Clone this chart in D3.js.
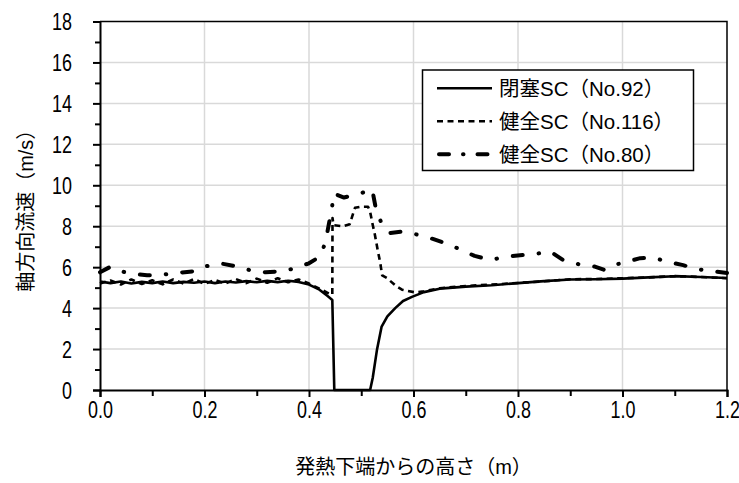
<!DOCTYPE html>
<html>
<head>
<meta charset="utf-8">
<script src="https://cdn.jsdelivr.net/npm/d3@7"></script>
<style>
  body { margin: 0; background: #fff; }
  svg text {
    font-family: "Liberation Sans", Arial, "Noto Sans CJK JP", sans-serif;
    text-spacing-trim: space-all;
  }
</style>
</head>
<body>
<div id="chart"></div>
<script>
// 発熱下端からの高さ (m) と 軸方向流速 (m/s)
const heightsNo92 = [0.00, 0.02, 0.04, 0.06, 0.08, 0.10, 0.12, 0.14, 0.16, 0.18, 0.20, 0.22, 0.24, 0.26, 0.28, 0.30, 0.32, 0.34, 0.36, 0.38, 0.40, 0.42, 0.435, 0.4446, 0.4484, 0.517, 0.522, 0.530, 0.539, 0.550, 0.565, 0.580, 0.597, 0.62, 0.65, 0.70, 0.75, 0.80, 0.85, 0.90, 0.95, 1.00, 1.05, 1.10, 1.15, 1.20];
const speedsNo92 = [5.30, 5.22, 5.30, 5.20, 5.28, 5.22, 5.30, 5.22, 5.28, 5.24, 5.30, 5.22, 5.30, 5.25, 5.32, 5.26, 5.33, 5.27, 5.34, 5.28, 5.15, 4.90, 4.60, 4.40, 0.00, 0.00, 0.60, 1.95, 3.10, 3.60, 4.00, 4.35, 4.55, 4.78, 4.95, 5.05, 5.12, 5.22, 5.32, 5.40, 5.41, 5.44, 5.50, 5.56, 5.52, 5.47];

const heightsNo116 = [0.00, 0.02, 0.04, 0.06, 0.08, 0.10, 0.12, 0.14, 0.16, 0.18, 0.20, 0.22, 0.24, 0.26, 0.28, 0.30, 0.32, 0.34, 0.36, 0.38, 0.40, 0.42, 0.435, 0.4446, 0.4450, 0.447, 0.465, 0.478, 0.488, 0.498, 0.513, 0.517, 0.522, 0.526, 0.532, 0.536, 0.540, 0.549, 0.568, 0.578, 0.603, 0.62, 0.65, 0.70, 0.75, 0.80, 0.85, 0.90, 0.95, 1.00, 1.05, 1.10, 1.15, 1.20];
const speedsNo116 = [5.20, 5.35, 5.15, 5.40, 5.18, 5.36, 5.16, 5.40, 5.20, 5.42, 5.18, 5.38, 5.20, 5.42, 5.22, 5.44, 5.24, 5.46, 5.26, 5.40, 5.20, 4.95, 4.75, 4.65, 8.40, 8.05, 8.00, 8.10, 8.90, 8.95, 8.95, 8.70, 8.06, 7.60, 6.76, 6.27, 5.60, 5.47, 5.05, 4.90, 4.77, 4.82, 4.97, 5.08, 5.15, 5.23, 5.31, 5.41, 5.42, 5.46, 5.50, 5.56, 5.52, 5.46];

const heightsNo80 = [0.00, 0.02, 0.04, 0.06, 0.09, 0.11, 0.14, 0.18, 0.20, 0.23, 0.265, 0.29, 0.317, 0.35, 0.373, 0.40, 0.42, 0.427, 0.432, 0.438, 0.444, 0.447, 0.467, 0.498, 0.521, 0.528, 0.540, 0.555, 0.58, 0.609, 0.637, 0.665, 0.692, 0.717, 0.747, 0.775, 0.804, 0.833, 0.862, 0.886, 0.917, 0.947, 0.965, 0.972, 1.00, 1.034, 1.059, 1.086, 1.116, 1.143, 1.173, 1.20];
const speedsNo80 = [5.75, 6.02, 5.80, 5.68, 5.60, 5.60, 5.70, 5.80, 6.03, 6.19, 6.02, 5.83, 5.75, 5.80, 5.95, 6.19, 6.50, 6.90, 7.30, 8.10, 8.90, 9.60, 9.40, 9.60, 9.80, 8.85, 8.06, 7.67, 7.74, 7.58, 7.38, 7.14, 6.84, 6.55, 6.35, 6.50, 6.58, 6.65, 6.76, 6.35, 6.14, 6.03, 5.87, 6.00, 6.22, 6.44, 6.47, 6.26, 6.10, 5.90, 5.80, 5.72];

const seriesNames = ["閉塞SC（No.92）", "健全SC（No.116）", "健全SC（No.80）"];
const xTicks = [0, 0.2, 0.4, 0.6, 0.8, 1.0, 1.2];
const xMinorTicks = [0.1, 0.3, 0.5, 0.7, 0.9, 1.1];
const yTicks = [0, 2, 4, 6, 8, 10, 12, 14, 16, 18];
const yMinorTicks = [1, 3, 5, 7, 9, 11, 13, 15, 17];
const xTitle = "発熱下端からの高さ（m）";
const yTitle = "軸方向流速（m/s）";

const svgWidth = 739;
const svgHeight = 483;
const margin = { top: 21.5, right: 12, bottom: 93, left: 100 };
const plotW = svgWidth - margin.left - margin.right;
const plotH = svgHeight - margin.top - margin.bottom;
const squeeze = 0.78; // narrow digits like the original

const lineStyles = [
  { width: 2.6, dash: null, cap: "butt" },
  { width: 2.6, dash: "6,4.5", cap: "butt" },
  { width: 4, dash: "10,16,0.5,16", cap: "round" }
];

const drawChart = () => {
  const svg = d3.select("#chart")
    .append("svg")
    .attr("width", svgWidth)
    .attr("height", svgHeight);

  const xScale = d3.scaleLinear().domain([0, 1.2]).range([0, plotW]);
  const yScale = d3.scaleLinear().domain([0, 18]).range([plotH, 0]);

  const g = svg.append("g").attr("transform", `translate(${margin.left},${margin.top})`);

  // grid
  g.append("g")
    .selectAll("line")
    .data(yTicks.slice(1, -1))
    .enter().append("line")
    .attr("x1", 0).attr("x2", plotW)
    .attr("y1", d => yScale(d)).attr("y2", d => yScale(d))
    .attr("stroke", "#d9d9d9").attr("stroke-width", 1.5);
  g.append("g")
    .selectAll("line")
    .data(xTicks.slice(1, -1))
    .enter().append("line")
    .attr("y1", 0).attr("y2", plotH)
    .attr("x1", d => xScale(d)).attr("x2", d => xScale(d))
    .attr("stroke", "#d9d9d9").attr("stroke-width", 1.5);

  // frame (top, right)
  g.append("path")
    .attr("d", `M0,0H${plotW}V${plotH}`)
    .attr("fill", "none").attr("stroke", "#000").attr("stroke-width", 1.5);

  // axes
  const xAxis = g.append("g")
    .attr("transform", `translate(0,${plotH})`)
    .call(d3.axisBottom(xScale).tickValues(xTicks).tickFormat(d3.format(".1f")).tickSize(7));
  g.append("g")
    .attr("transform", `translate(0,${plotH})`)
    .call(d3.axisBottom(xScale).tickValues(xMinorTicks).tickFormat("").tickSize(6))
    .call(a => a.select(".domain").remove());
  const yAxis = g.append("g")
    .call(d3.axisLeft(yScale).tickValues(yTicks).tickSize(7));
  g.append("g")
    .call(d3.axisLeft(yScale).tickValues(yMinorTicks).tickFormat("").tickSize(5))
    .call(a => a.select(".domain").remove());

  g.selectAll(".domain").attr("stroke-width", 2);
  g.selectAll(".tick line").attr("stroke-width", 2);

  xAxis.selectAll(".tick text")
    .attr("font-size", 23)
    .attr("fill", "#000")
    .attr("y", 12)
    .attr("dy", "0.71em")
    .attr("transform", `scale(${squeeze},1)`);
  yAxis.selectAll(".tick text")
    .attr("font-size", 23)
    .attr("fill", "#000")
    .attr("x", -28 / squeeze)
    .attr("dy", "0.36em")
    .attr("transform", `scale(${squeeze},1)`);

  // lines
  const series = [
    d3.zip(heightsNo92, speedsNo92),
    d3.zip(heightsNo116, speedsNo116),
    d3.zip(heightsNo80, speedsNo80)
  ];
  const line = d3.line().x(d => xScale(d[0])).y(d => yScale(d[1]));

  // draw No.80 first, then No.116, then No.92 on top
  [2, 1, 0].forEach(i => {
    g.append("path")
      .datum(series[i])
      .attr("d", line)
      .attr("fill", "none")
      .attr("stroke", "#000")
      .attr("stroke-width", lineStyles[i].width)
      .attr("stroke-dasharray", lineStyles[i].dash)
      .attr("stroke-linecap", lineStyles[i].cap)
      .attr("stroke-linejoin", "round");
  });

  // legend
  const legend = svg.append("g").attr("transform", "translate(422.5,70)");
  legend.append("rect")
    .attr("width", 271).attr("height", 100.5)
    .attr("fill", "#fff").attr("stroke", "#000").attr("stroke-width", 1.5);
  const rows = legend.selectAll(".row")
    .data(seriesNames)
    .enter().append("g")
    .attr("transform", (d, i) => `translate(0,${18.3 + i * 33})`);
  rows.append("line")
    .attr("x1", (d, i) => i === 2 ? 16.5 : 14.5)
    .attr("x2", (d, i) => i === 2 ? 67.5 : 69.5)
    .attr("stroke", "#000")
    .attr("stroke-width", (d, i) => lineStyles[i].width)
    .attr("stroke-dasharray", (d, i) => i === 2 ? "10,14,0.5,14" : lineStyles[i].dash)
    .attr("stroke-linecap", (d, i) => lineStyles[i].cap);
  rows.append("text")
    .attr("x", 76.5)
    .attr("dy", "0.36em")
    .attr("font-size", 20.5)
    .text(d => d);

  // axis titles
  svg.append("text")
    .attr("x", margin.left + plotW / 2)
    .attr("y", 467)
    .attr("dy", "0.36em")
    .attr("text-anchor", "middle")
    .attr("font-size", 20)
    .text(xTitle);
  svg.append("text")
    .attr("transform", `translate(26,${margin.top + plotH / 2}) rotate(-90)`)
    .attr("dy", "0.36em")
    .attr("text-anchor", "middle")
    .attr("font-size", 20)
    .text(yTitle);
};

window.onload = drawChart;
</script>
</body>
</html>
